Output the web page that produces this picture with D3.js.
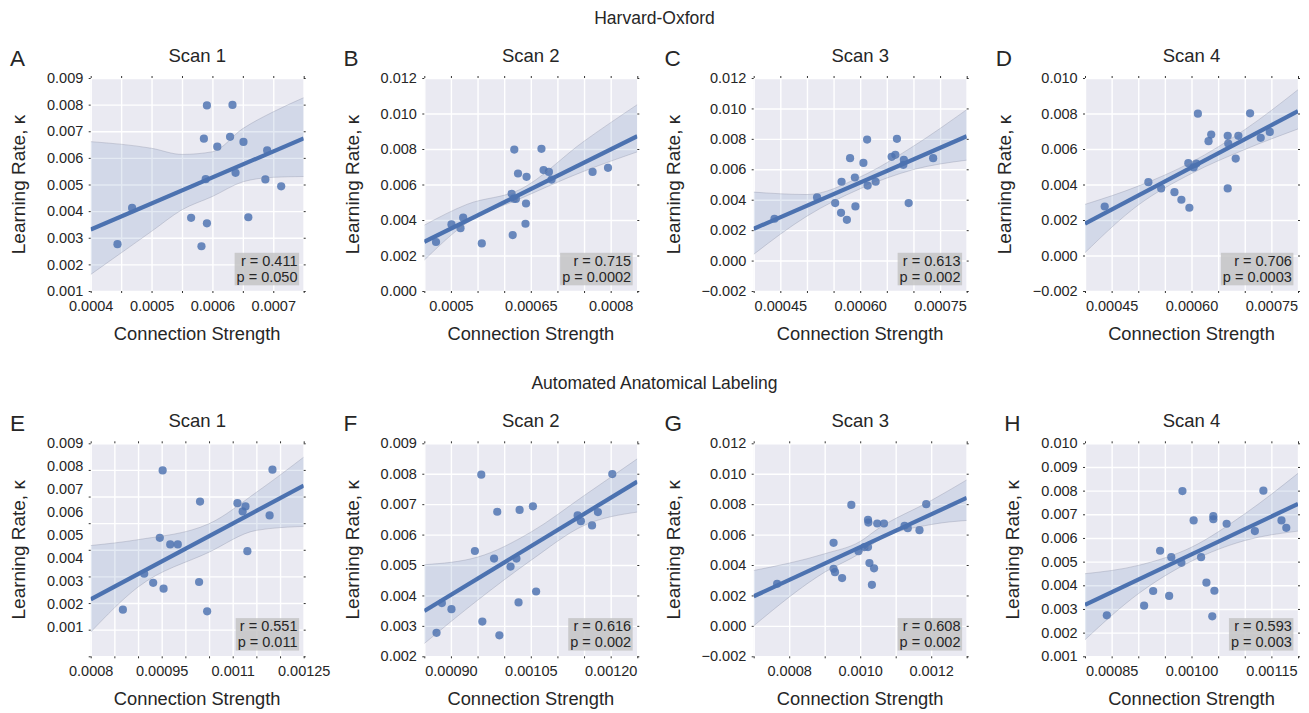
<!DOCTYPE html>
<html><head><meta charset="utf-8">
<script src="https://cdn.jsdelivr.net/npm/d3@7"></script>
<style>
body{margin:0;background:#fff;}
svg text{font-family:"Liberation Sans", Arial, Helvetica, sans-serif; fill:#262626;}
</style></head><body>
<svg id="chart" width="1309" height="713"></svg>
<script>
// ================= DATA =================
const rowTitles = ["Harvard-Oxford", "Automated Anatomical Labeling"];
const panelLetters = ["A","B","C","D","E","F","G","H"];
const scanTitles = ["Scan 1","Scan 2","Scan 3","Scan 4","Scan 1","Scan 2","Scan 3","Scan 4"];
const rTexts = ["r = 0.411","r = 0.715","r = 0.613","r = 0.706","r = 0.551","r = 0.616","r = 0.608","r = 0.593"];
const pTexts = ["p = 0.050","p = 0.0002","p = 0.002","p = 0.0003","p = 0.011","p = 0.002","p = 0.002","p = 0.003"];
const xLabel = "Connection Strength";
const yLabel = "Learning Rate, κ";

const xDomains = [[0.0004,0.00075],[0.00045,0.00085],[0.0004,0.0008],[0.0004,0.0008],
                  [0.0008,0.00125],[0.00085,0.00125],[0.0007,0.0013],[0.0008,0.0012]];
const yDomains = [[0.001,0.009],[0,0.012],[-0.002,0.012],[-0.002,0.010],
                  [0.001,0.009],[0.002,0.009],[-0.002,0.012],[0.001,0.010]];
const xGridSteps = [0.00005,0.00005,0.00005,0.00005,0.00005,0.00005,0.0001,0.00005];
const yGridSteps = [0.001,0.002,0.002,0.002,0.001,0.001,0.002,0.001];
const xTickLabels = [
  ["0.0004","0.0005","0.0006","0.0007"],
  ["0.0005","0.00065","0.0008"],
  ["0.00045","0.00060","0.00075"],
  ["0.00045","0.00060","0.00075"],
  ["0.0008","0.00095","0.0011","0.00125"],
  ["0.00090","0.00105","0.00120"],
  ["0.0008","0.0010","0.0012"],
  ["0.00085","0.00100","0.00115"]];

// Panel A
const strengthA = [0.000444,0.000468,0.000565,0.000582,0.000586,0.000591,0.000589,0.000591,0.000608,0.000629,0.000633,0.000638,0.000651,0.000659,0.000690,0.000687,0.000713];
const rateA     = [0.00276,0.00412,0.00375,0.00268,0.00672,0.00797,0.00520,0.00354,0.00642,0.00679,0.00799,0.00544,0.00660,0.00377,0.00628,0.00519,0.00493];
const fitA = [0.00331,0.00673];
const bandXA  = [0.0004,0.0005,0.00055,0.0006,0.00065,0.0007,0.00075];
const bandHiA = [0.00661,0.00636,0.00613,0.00623,0.0071,0.00773,0.00826];
const bandLoA = [0.00162,0.00324,0.00405,0.00455,0.0051,0.00527,0.0053];
// Panel B
const strengthB = [0.000472,0.000501,0.000518,0.000523,0.000558,0.000614,0.000616,0.000619,0.000618,0.000622,0.000626,0.000641,0.000640,0.000642,0.000670,0.000674,0.000684,0.000689,0.000766,0.000795];
const rateB     = [0.00276,0.00375,0.00354,0.00413,0.00268,0.00548,0.00315,0.00797,0.00520,0.00519,0.00662,0.00493,0.00379,0.00643,0.00801,0.00681,0.00671,0.00628,0.00671,0.00694];
const fitB = [0.002775,0.008719];
const bandXB  = [0.00045,0.00053,0.00063,0.00075,0.00085];
const bandHiB = [0.00371,0.00488,0.00572,0.00844,0.0105];
const bandLoB = [0.00174,0.00384,0.0052,0.00675,0.00784];
// Panel C
const strengthC = [0.000439,0.000519,0.000553,0.000564,0.000575,0.000565,0.000581,0.000590,0.000591,0.000606,0.000613,0.000614,0.000629,0.000659,0.000666,0.000669,0.000682,0.000681,0.000691,0.000737];
const rateC     = [0.00275,0.00415,0.00378,0.00314,0.00268,0.00518,0.00673,0.00546,0.00356,0.00642,0.00795,0.00493,0.00518,0.00682,0.00695,0.00800,0.00662,0.00629,0.00378,0.00673];
const fitC = [0.00209,0.00817];
const bandXC  = [0.0004,0.0005,0.0006,0.0007,0.0008];
const bandHiC = [0.0045,0.00434,0.0055,0.00752,0.00992];
const bandLoC = [0.00041,0.00292,0.00472,0.00598,0.0066];
// Panel D
const strengthD = [0.000437,0.000519,0.000543,0.000568,0.000581,0.000596,0.000594,0.000604,0.000609,0.000612,0.000632,0.000637,0.000668,0.000669,0.000668,0.000683,0.000688,0.000710,0.000730,0.000747];
const rateD     = [0.00276,0.00413,0.00378,0.00357,0.00314,0.00269,0.00520,0.00496,0.00518,0.00799,0.00644,0.00681,0.00674,0.00631,0.00378,0.00546,0.00674,0.00801,0.00663,0.00696];
const fitD = [0.00179,0.00813];
const bandXD  = [0.0004,0.0005,0.0006,0.0007,0.0008];
const bandHiD = [0.00288,0.00391,0.00526,0.00709,0.00934];
const bandLoD = [0.00016,0.00284,0.00462,0.00597,0.00713];
// Panel E
const strengthE = [0.000868,0.000913,0.000932,0.000954,0.000946,0.000968,0.000984,0.000952,0.001029,0.001031,0.001046,0.001110,0.001121,0.001127,0.001131,0.001178,0.001184];
const rateE     = [0.00275,0.00410,0.00376,0.00354,0.00545,0.00520,0.00520,0.00798,0.00379,0.00681,0.00269,0.00675,0.00644,0.00663,0.00495,0.00629,0.00801];
const fitE = [0.00314,0.00741];
const bandXE  = [0.0008,0.0009,0.00105,0.00115,0.00125];
const bandHiE = [0.00516,0.00538,0.00598,0.00716,0.00848];
const bandLoE = [0.00191,0.0036,0.00491,0.00573,0.00588];
// Panel F
const strengthF = [0.000873,0.000883,0.000901,0.000945,0.000957,0.000959,0.000981,0.000987,0.000991,0.001012,0.001023,0.001027,0.001029,0.001054,0.001060,0.001138,0.001144,0.001165,0.001176,0.001203];
const rateF     = [0.00277,0.00375,0.00355,0.00546,0.00797,0.00314,0.00521,0.00675,0.00269,0.00495,0.00521,0.00377,0.00681,0.00693,0.00413,0.00663,0.00644,0.00630,0.00674,0.00799];
const fitF = [0.00349,0.00774];
const bandXF  = [0.00085,0.00095,0.00105,0.00115,0.00125];
const bandHiF = [0.00501,0.00526,0.00608,0.00728,0.00849];
const bandLoF = [0.00242,0.00384,0.00515,0.0063,0.00674];
// Panel G
const strengthG = [0.000766,0.000925,0.000925,0.000929,0.000949,0.000975,0.000995,0.001012,0.001022,0.001022,0.001023,0.001026,0.001033,0.001039,0.001048,0.001067,0.001125,0.001134,0.001167,0.001186];
const rateG     = [0.00277,0.00546,0.00375,0.00353,0.00314,0.00795,0.00491,0.00518,0.00518,0.00697,0.00679,0.00413,0.00270,0.00378,0.00673,0.00673,0.00658,0.00642,0.00629,0.00800];
const fitG = [0.00194,0.00841];
const bandXG  = [0.0007,0.0009,0.001,0.00105,0.0012,0.0013];
const bandHiG = [0.00364,0.00474,0.00555,0.00638,0.00824,0.00959];
const bandLoG = [0.0000,0.00353,0.00478,0.00561,0.00666,0.00693];
// Panel H
const strengthH = [0.000841,0.000911,0.000928,0.000941,0.000958,0.000962,0.000981,0.000983,0.001004,0.001018,0.001028,0.001041,0.001041,0.001043,0.001039,0.001066,0.001119,0.001135,0.001169,0.001178];
const rateH     = [0.00273,0.00314,0.00376,0.00546,0.00355,0.00519,0.00495,0.00798,0.00674,0.00519,0.00411,0.00692,0.00679,0.00377,0.00269,0.00660,0.00629,0.00800,0.00674,0.00643];
const fitH = [0.00317,0.00744];
const bandXH  = [0.0008,0.0009,0.001,0.0011,0.0012];
const bandHiH = [0.00449,0.00484,0.00561,0.00702,0.00873];
const bandLoH = [0.0017,0.00364,0.00502,0.00589,0.00629];

const strengths = [strengthA,strengthB,strengthC,strengthD,strengthE,strengthF,strengthG,strengthH];
const rates = [rateA,rateB,rateC,rateD,rateE,rateF,rateG,rateH];
const fits = [fitA,fitB,fitC,fitD,fitE,fitF,fitG,fitH];
const bandXs = [bandXA,bandXB,bandXC,bandXD,bandXE,bandXF,bandXG,bandXH];
const bandHis = [bandHiA,bandHiB,bandHiC,bandHiD,bandHiE,bandHiF,bandHiG,bandHiH];
const bandLos = [bandLoA,bandLoB,bandLoC,bandLoD,bandLoE,bandLoF,bandLoG,bandLoH];

// ================= LAYOUT =================
const colLeft = [90.7, 424.3, 753.7, 1085];
const rowTop = [78, 443.3];
const W = 213, H = 213;
// the reference squeezes panel E's y tick labels into the upper part of the axis
const yLabelSpan = [1,1,1,1,0.864,1,1,1];
const blue = "#4C72B0";
const fmtY = d3.format(".3f");

const svg = d3.select("#chart");

function gridValues(dom, step){
  const n = Math.round((dom[1]-dom[0])/step);
  return d3.range(n+1).map(k => +(dom[0] + k*step).toFixed(8));
}

svg.append("text").attr("x", 654.5).attr("y", 23.5).attr("text-anchor","middle")
  .style("font-size","17.5px").text(rowTitles[0]);
svg.append("text").attr("x", 654.5).attr("y", 388.5).attr("text-anchor","middle")
  .style("font-size","17.5px").text(rowTitles[1]);

panelLetters.forEach((letter, i) => {
  const col = i % 4, row = Math.floor(i / 4);
  const L = colLeft[col], T = rowTop[row];
  const g = svg.append("g").attr("transform", `translate(${L},${T})`);
  const x = d3.scaleLinear().domain(xDomains[i]).range([0, W]);
  const y = d3.scaleLinear().domain(yDomains[i]).range([H, 0]);
  const yl = d3.scaleLinear().domain(yDomains[i]).range([H * yLabelSpan[i], 0]);

  const clipId = "clip" + i;
  g.append("clipPath").attr("id", clipId).append("rect").attr("width", W).attr("height", H);

  g.append("rect").attr("width", W).attr("height", H).attr("fill", "#EAEAF2");

  const xg = gridValues(xDomains[i], xGridSteps[i]);
  const yg = gridValues(yDomains[i], yGridSteps[i]);

  // gridlines
  const gx = g.append("g").attr("transform", `translate(0,${H})`)
    .call(d3.axisBottom(x).tickValues(xg).tickSize(-H).tickFormat(""));
  const gy = g.append("g")
    .call(d3.axisLeft(y).tickValues(yg).tickSize(-W).tickFormat(""));
  [gx, gy].forEach(a => {
    a.select(".domain").remove();
    a.selectAll("line").attr("stroke", "#fff").attr("stroke-width", 1.4);
  });

  // tiny ticks on all four sides
  const tk = [
    g.append("g").attr("transform", `translate(0,${H})`).call(d3.axisBottom(x).tickValues(xg).tickSize(2).tickFormat("")),
    g.append("g").call(d3.axisTop(x).tickValues(xg).tickSize(2).tickFormat("")),
    g.append("g").call(d3.axisLeft(y).tickValues(yg).tickSize(2).tickFormat("")),
    g.append("g").attr("transform", `translate(${W},0)`).call(d3.axisRight(y).tickValues(yg).tickSize(2).tickFormat(""))
  ];
  tk.forEach(a => { a.select(".domain").remove(); a.selectAll("line").attr("stroke", "#333").attr("stroke-width", 1); });

  // tick labels
  const xVals = xTickLabels[i].map(Number);
  const ax = g.append("g").attr("transform", `translate(0,${H})`)
    .call(d3.axisBottom(x).tickValues(xVals).tickSize(0).tickPadding(9.7)
      .tickFormat((d, k) => xTickLabels[i][k]));
  ax.select(".domain").remove();
  ax.selectAll("text").style("font-size", "14.5px").attr("fill", "#262626")
    .style("font-family", "'Liberation Sans', Arial, sans-serif");

  const ay = g.append("g")
    .call(d3.axisLeft(yl).tickValues(yg).tickSize(0).tickPadding(7.4).tickFormat(fmtY));
  ay.select(".domain").remove();
  ay.selectAll("text").style("font-size", "14.5px").attr("fill", "#262626")
    .style("font-family", "'Liberation Sans', Arial, sans-serif");

  const plot = g.append("g").attr("clip-path", `url(#${clipId})`);

  // scatter
  plot.selectAll("circle").data(strengths[i].map((s, k) => [s, rates[i][k]]))
    .enter().append("circle")
    .attr("cx", d => x(d[0])).attr("cy", d => y(d[1])).attr("r", 4.1)
    .attr("fill", blue).attr("fill-opacity", 0.82);

  // confidence band
  const bandData = bandXs[i].map((bx, k) => ({x: bx, lo: bandLos[i][k], hi: bandHis[i][k]}));
  plot.append("path").datum(bandData)
    .attr("d", d3.area().x(d => x(d.x)).y0(d => y(d.lo)).y1(d => y(d.hi)).curve(d3.curveMonotoneX))
    .attr("fill", blue).attr("fill-opacity", 0.15);
  ["lo", "hi"].forEach(key => {
    plot.append("path").datum(bandData)
      .attr("d", d3.line().x(d => x(d.x)).y(d => y(d[key])).curve(d3.curveMonotoneX))
      .attr("fill", "none").attr("stroke", "#8d93a8").attr("stroke-opacity", 0.45).attr("stroke-width", 0.8);
  });

  // regression line
  plot.append("path").datum([[xDomains[i][0], fits[i][0]], [xDomains[i][1], fits[i][1]]])
    .attr("d", d3.line().x(d => x(d[0])).y(d => y(d[1])))
    .attr("stroke", blue).attr("stroke-width", 4.2).attr("fill", "none");

  // stats box
  const box = g.append("g");
  const rect = box.append("rect");
  const tr = box.append("text").attr("x", W - 6.2).attr("y", H - 25.5).attr("text-anchor", "end")
    .style("font-size", "14.5px").text(rTexts[i]);
  const tp = box.append("text").attr("x", W - 6.2).attr("y", H - 8.9).attr("text-anchor", "end")
    .style("font-size", "14.5px").text(pTexts[i]);
  const b1 = tr.node().getBBox(), b2 = tp.node().getBBox();
  const bx0 = Math.min(b1.x, b2.x) - 2;
  rect.attr("x", bx0).attr("y", H - 38.2).attr("width", (W - 4.6) - bx0).attr("height", 32.5)
    .attr("fill", "#c4c4c6").attr("fill-opacity", 0.85);

  // axis titles
  g.append("text").attr("x", W / 2).attr("y", H + 48.5).attr("text-anchor", "middle")
    .style("font-size", "18.3px").text(xLabel);
  const tb = ay.node().getBBox();
  const ylx = tb.x - 22;
  g.append("text").attr("transform", `translate(${ylx},${H / 2}) rotate(-90)`)
    .attr("text-anchor", "middle").style("font-size", "19px").text(yLabel);

  // scan title + panel letter
  g.append("text").attr("x", W / 2).attr("y", -16.5).attr("text-anchor", "middle")
    .style("font-size", "18.5px").text(scanTitles[i]);
  g.append("text").attr("x", ylx - 15).attr("y", -12).style("font-size", "22.5px").text(letter);
});
</script>
</body></html>
